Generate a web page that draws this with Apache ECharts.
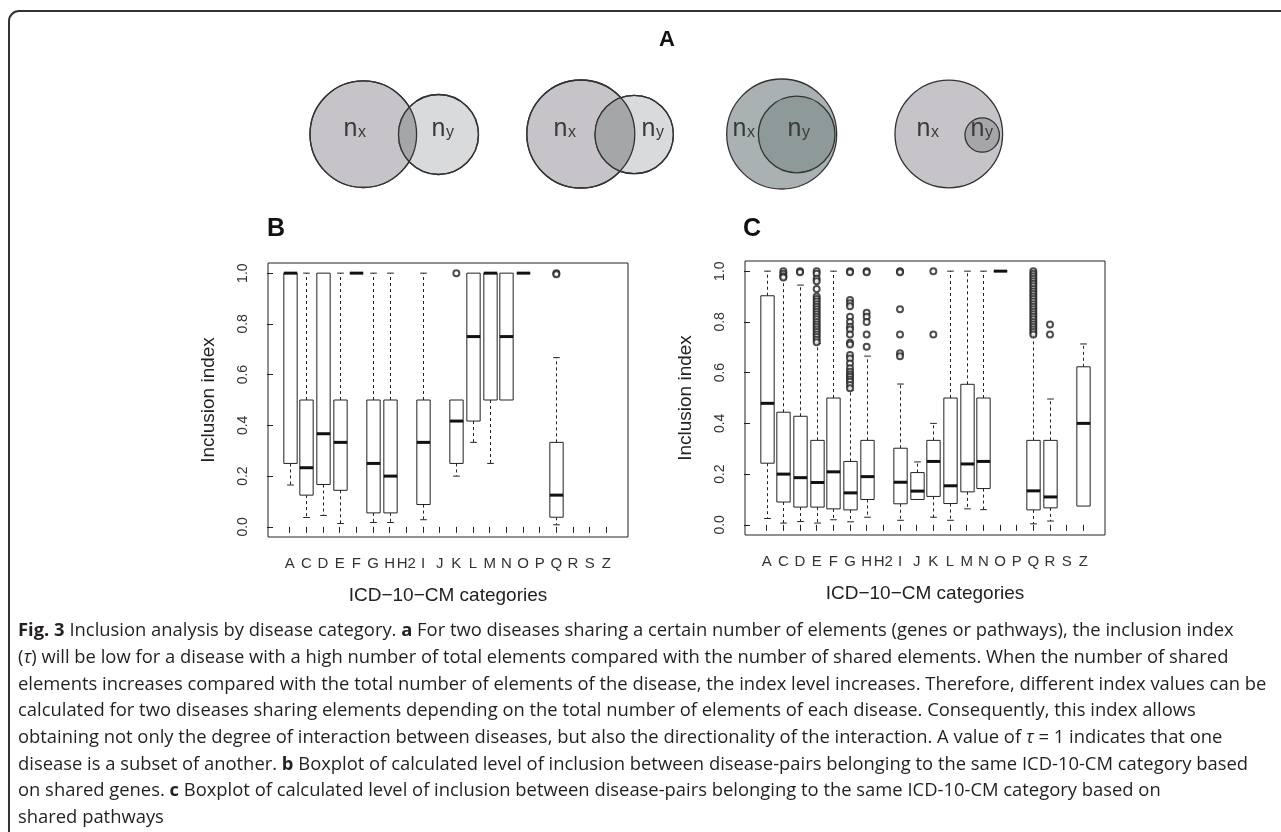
<!DOCTYPE html>
<html><head><meta charset="utf-8">
<script src="https://cdn.jsdelivr.net/npm/echarts@6/dist/echarts.min.js"></script>
<style>html,body{margin:0;padding:0;background:#fff}#c{width:1281px;height:832px}</style>
</head><body><div id="c"></div>
<script>
const categories = ['A','C','D','E','F','G','H','H2','I','J','K','L','M','N','O','P','Q','R','S','Z'];
const yTickValues = [0, 0.2, 0.4, 0.6, 0.8, 1.0];
const xTickValues = [1,2,3,4,5,6,7,8,9,10,11,12,13,14,15,16,17,18,19,20];

// Panel B: shared genes (null = no pairs in category)
const geneLow    = [0.165,0.037,0.045,0.013,1.0,0.017,0.017,null,0.028,null,0.20,0.333,0.25,0.5,1.0,null,0.008,null,null,null];
const geneQ1     = [0.25,0.125,0.167,0.144,1.0,0.055,0.055,null,0.088,null,0.25,0.417,0.5,0.5,1.0,null,0.038,null,null,null];
const geneMedian = [1.0,0.233,0.367,0.333,1.0,0.25,0.20,null,0.333,null,0.417,0.75,1.0,0.75,1.0,null,0.125,null,null,null];
const geneQ3     = [1.0,0.5,1.0,0.5,1.0,0.5,0.5,null,0.5,null,0.5,1.0,1.0,1.0,1.0,null,0.333,null,null,null];
const geneHigh   = [1.0,1.0,1.0,1.0,1.0,1.0,1.0,null,1.0,null,0.5,1.0,1.0,1.0,1.0,null,0.667,null,null,null];
const geneOutliers = { K:[1.0], Q:[1.0,0.996] };

// Panel C: shared pathways
const pathLow    = [0.025,0.007,0.013,0.007,0.02,0.012,0.03,null,0.018,0.1,0.03,0.018,0.063,0.06,1.0,null,0.004,0.015,null,0.074];
const pathQ1     = [0.243,0.09,0.07,0.07,0.063,0.059,0.1,null,0.083,0.1,0.112,0.084,0.13,0.143,1.0,null,0.059,0.067,null,0.074];
const pathMedian = [0.479,0.2,0.186,0.167,0.209,0.126,0.19,null,0.168,0.133,0.25,0.154,0.24,0.25,1.0,null,0.134,0.11,null,0.4];
const pathQ3     = [0.903,0.444,0.428,0.333,0.5,0.25,0.333,null,0.302,0.206,0.333,0.5,0.554,0.5,1.0,null,0.333,0.333,null,0.623];
const pathHigh   = [1.0,0.971,0.945,0.715,1.0,0.531,0.665,null,0.555,0.248,0.4,1.0,1.0,1.0,1.0,null,0.745,0.496,null,0.713];
const pathOutliers = {
  C:[1.0,0.99,0.98,0.975],
  D:[1.0,0.996],
  E:[1.0,0.99,0.97,0.96,0.93,0.9,0.89,0.88,0.87,0.86,0.85,0.84,0.83,0.82,0.81,0.8,0.79,0.78,0.77,0.76,0.75,0.74,0.73,0.72],
  G:[1.0,0.996,0.886,0.873,0.862,0.82,0.8,0.781,0.77,0.75,0.718,0.711,0.669,0.656,0.636,0.617,0.603,0.593,0.584,0.573,0.564,0.551,0.538],
  H:[1.0,0.996,0.836,0.82,0.8,0.75,0.702],
  I:[1.0,0.996,0.85,0.75,0.676,0.665],
  K:[1.0,0.75],
  Q:[1.0,0.99,0.98,0.97,0.96,0.95,0.94,0.93,0.92,0.91,0.9,0.89,0.88,0.87,0.86,0.85,0.84,0.83,0.82,0.81,0.8,0.79,0.78,0.77,0.76,0.75],
  R:[0.79,0.75]
};

const captionLines = [
  '{b|Fig. 3} Inclusion analysis by disease category. {b|a} For two diseases sharing a certain number of elements (genes or pathways), the inclusion index',
  '({i|τ}) will be low for a disease with a high number of total elements compared with the number of shared elements. When the number of shared',
  'elements increases compared with the total number of elements of the disease, the index level increases. Therefore, different index values can be',
  'calculated for two diseases sharing elements depending on the total number of elements of each disease. Consequently, this index allows',
  'obtaining not only the degree of interaction between diseases, but also the directionality of the interaction. A value of {i|τ} = 1 indicates that one',
  'disease is a subset of another. {b|b} Boxplot of calculated level of inclusion between disease-pairs belonging to the same ICD-10-CM category based',
  'on shared genes. {b|c} Boxplot of calculated level of inclusion between disease-pairs belonging to the same ICD-10-CM category based on',
  'shared pathways'
];

function boxData(lo, q1, med, q3, hi) {
  const out = [];
  categories.forEach((c, i) => {
    if (med[i] !== null) out.push([i + 1, lo[i], q1[i], med[i], q3[i], hi[i]]);
  });
  return out;
}
function outlierData(obj) {
  const out = [];
  Object.keys(obj).forEach(k => {
    const idx = categories.indexOf(k) + 1;
    obj[k].forEach(v => out.push([idx, v]));
  });
  return out;
}

const LC = '#222';
function renderBox(params, api) {
  const x = api.value(0), lo = api.value(1), q1 = api.value(2), med = api.value(3), q3 = api.value(4), hi = api.value(5);
  const hw = api.size([0.8, 0])[0] / 2;
  const cwid = hw / 2;
  const cx = Math.round(api.coord([x, 0])[0]) + 0.5;
  const Y = v => api.coord([x, v])[1];
  const yLo = Y(lo), yQ1 = Y(q1), yMed = Y(med), yQ3 = Y(q3), yHi = Y(hi);
  const dash = { stroke: LC, lineWidth: 1, lineDash: [3, 3] };
  const solid = { stroke: LC, lineWidth: 1 };
  const ch = [];
  if (hi > q3) {
    ch.push({ type: 'line', shape: { x1: cx, y1: yQ3, x2: cx, y2: yHi }, style: dash });
    ch.push({ type: 'line', shape: { x1: cx - cwid, y1: yHi, x2: cx + cwid, y2: yHi }, style: solid });
  }
  if (lo < q1) {
    ch.push({ type: 'line', shape: { x1: cx, y1: yQ1, x2: cx, y2: yLo }, style: dash });
    ch.push({ type: 'line', shape: { x1: cx - cwid, y1: yLo, x2: cx + cwid, y2: yLo }, style: solid });
  }
  ch.push({ type: 'rect', shape: { x: cx - hw, y: yQ3, width: 2 * hw, height: yQ1 - yQ3 }, style: { fill: '#fff', stroke: LC, lineWidth: 1 } });
  ch.push({ type: 'line', shape: { x1: cx - hw, y1: yMed, x2: cx + hw, y2: yMed }, style: { stroke: '#111', lineWidth: 3 } });
  return { type: 'group', children: ch };
}

const AXF = 'Liberation Sans, Arial, sans-serif';
function xAxisCfg(g) {
  return {
    gridIndex: g, type: 'value', min: -0.3, max: 21.3,
    axisLine: { show: false }, splitLine: { show: false },
    axisTick: { show: true, customValues: xTickValues, length: 6, lineStyle: { color: LC } },
    axisLabel: { customValues: xTickValues, formatter: v => categories[v - 1], fontFamily: AXF, fontSize: 15, color: '#333', margin: 19, hideOverlap: false },
    name: 'ICD−10−CM categories', nameLocation: 'middle', nameGap: 49,
    nameTextStyle: { fontFamily: AXF, fontSize: 19, color: '#222' }
  };
}
function yAxisCfg(g) {
  return {
    gridIndex: g, type: 'value', min: -0.04, max: 1.04,
    axisLine: { show: false }, splitLine: { show: false },
    axisTick: { show: true, customValues: yTickValues, length: 6, lineStyle: { color: LC } },
    axisLabel: { customValues: yTickValues, formatter: v => v.toFixed(1), rotate: 90, fontFamily: AXF, fontSize: 14, color: '#333', margin: 18 },
    name: 'Inclusion index', nameLocation: 'middle', nameGap: 50,
    nameTextStyle: { fontFamily: AXF, fontSize: 19, color: '#222' }
  };
}

// Venn diagram helpers (decorative panel A)
function circ(x, y, r, fill) {
  return { type: 'circle', shape: { cx: x, cy: y, r: r }, style: { fill: fill, stroke: '#333', lineWidth: 1.3 }, silent: true };
}
function ring(x, y, r) {
  return { type: 'circle', shape: { cx: x, cy: y, r: r }, style: { fill: 'none', stroke: '#333', lineWidth: 1.3 }, silent: true };
}
function lens(c1, c2, fill) {
  const d = c2.x - c1.x;
  const a = (d * d + c1.r * c1.r - c2.r * c2.r) / (2 * d);
  const h = Math.sqrt(c1.r * c1.r - a * a);
  const al = Math.atan2(h, a);
  const be = Math.atan2(h, a - d);
  const pts = [];
  const n = 60;
  for (let k = 0; k <= n; k++) { const t = -al + 2 * al * k / n; pts.push([c1.x + c1.r * Math.cos(t), c1.y + c1.r * Math.sin(t)]); }
  for (let k = 0; k <= n; k++) { const t = be + (2 * Math.PI - 2 * be) * k / n; pts.push([c2.x + c2.r * Math.cos(t), c2.y + c2.r * Math.sin(t)]); }
  return { type: 'polygon', shape: { points: pts }, style: { fill: fill }, silent: true };
}
const VF = 'Liberation Sans Narrow, Liberation Sans, Arial, sans-serif';
function nlabel(cx, y, sub) {
  // big "n" followed by a small letter sitting on the same baseline
  return [
    { type: 'text', x: cx + 0.5, y: y, silent: true, style: { text: 'n', fontFamily: VF, fontSize: 25, fill: '#3a3a3a', align: 'right', verticalAlign: 'middle' } },
    { type: 'text', x: cx + 1, y: y + 3.2, silent: true, style: { text: sub, fontFamily: VF, fontSize: 16, fill: '#3a3a3a', align: 'left', verticalAlign: 'middle' } }
  ];
}

const v1a = { x: 363.3, y: 134.2, r: 53.3 }, v1b = { x: 438.5, y: 134.5, r: 40 };
const v2a = { x: 580.8, y: 134, r: 54 }, v2b = { x: 634.2, y: 134.5, r: 39.2 };
const graphics = [
  { type: 'rect', shape: { x: 9, y: 11, width: 1320, height: 900, r: 10 }, style: { fill: 'none', stroke: '#333', lineWidth: 2 }, silent: true },
  { type: 'text', x: 667, y: 40, style: { text: 'A', fontFamily: AXF, fontWeight: 'bold', fontSize: 22, fill: '#111', align: 'center', verticalAlign: 'middle' } },
  { type: 'text', x: 267, y: 229, style: { text: 'B', fontFamily: AXF, fontWeight: 'bold', fontSize: 25, fill: '#111', align: 'left', verticalAlign: 'middle' } },
  { type: 'text', x: 743, y: 229, style: { text: 'C', fontFamily: AXF, fontWeight: 'bold', fontSize: 25, fill: '#111', align: 'left', verticalAlign: 'middle' } },
  circ(v1a.x, v1a.y, v1a.r, '#c6c4c9'), circ(v1b.x, v1b.y, v1b.r, '#d8dadb'), lens(v1a, v1b, '#a5a6a8'), ring(v1a.x, v1a.y, v1a.r), ring(v1b.x, v1b.y, v1b.r),
  circ(v2a.x, v2a.y, v2a.r, '#c6c4c9'), circ(v2b.x, v2b.y, v2b.r, '#d8dadb'), lens(v2a, v2b, '#a5a6a8'), ring(v2a.x, v2a.y, v2a.r), ring(v2b.x, v2b.y, v2b.r),
  circ(781.7, 134, 55, '#aab1b3'), circ(796.7, 134.5, 38.3, '#8e9999'),
  circ(948.8, 134, 53.8, '#c6c4c9'), circ(982.2, 135, 17.2, '#a6a5a8')
].concat(
  nlabel(357, 129, 'x'), nlabel(445, 129, 'y'),
  nlabel(567, 129, 'x'), nlabel(655, 129, 'y'),
  nlabel(746, 129, 'x'), nlabel(801, 129, 'y'),
  nlabel(930, 129, 'x'), nlabel(984, 129, 'y')
);
const CF = 'Open Sans, Noto Sans, sans-serif';
const CS = 18.4;
captionLines.forEach((ln, i) => {
  graphics.push({ type: 'text', x: 18, y: 631 + i * 26.7, silent: true,
    style: { text: ln, fontFamily: CF, fontSize: CS, fill: '#231f20', align: 'left', verticalAlign: 'middle',
      rich: { b: { fontFamily: CF, fontSize: CS, fontWeight: 'bold', fill: '#231f20' },
              i: { fontFamily: CF, fontSize: CS, fontStyle: 'italic', fill: '#231f20' } } } });
});

const chart = echarts.init(document.getElementById('c'), null, { renderer: 'canvas' });
chart.setOption({
  animation: false,
  grid: [
    { left: 268, top: 263, width: 360, height: 274, show: true, borderColor: LC, borderWidth: 1, backgroundColor: 'transparent' },
    { left: 745, top: 261, width: 360, height: 274, show: true, borderColor: LC, borderWidth: 1, backgroundColor: 'transparent' }
  ],
  xAxis: [xAxisCfg(0), xAxisCfg(1)],
  yAxis: [yAxisCfg(0), yAxisCfg(1)],
  series: [
    { type: 'custom', xAxisIndex: 0, yAxisIndex: 0, renderItem: renderBox, data: boxData(geneLow, geneQ1, geneMedian, geneQ3, geneHigh), clip: false, z: 2 },
    { type: 'scatter', xAxisIndex: 0, yAxisIndex: 0, data: outlierData(geneOutliers), symbol: 'emptyCircle', symbolSize: 6, itemStyle: { color: LC, borderColor: LC, borderWidth: 1 }, z: 3 },
    { type: 'custom', xAxisIndex: 1, yAxisIndex: 1, renderItem: renderBox, data: boxData(pathLow, pathQ1, pathMedian, pathQ3, pathHigh), clip: false, z: 2 },
    { type: 'scatter', xAxisIndex: 1, yAxisIndex: 1, data: outlierData(pathOutliers), symbol: 'emptyCircle', symbolSize: 6, itemStyle: { color: LC, borderColor: LC, borderWidth: 1 }, z: 3 }
  ],
  graphic: graphics
});
</script></body></html>
